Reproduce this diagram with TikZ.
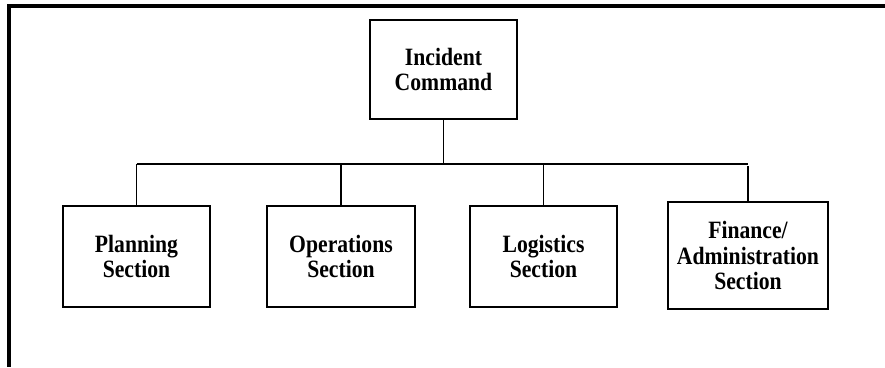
\documentclass[tikz,border=0pt]{standalone}
\usepackage{fontspec}
\setmainfont{Liberation Serif}
\newfontfamily\lab{Liberation Serif}[FakeStretch=0.87]
\begin{document}
\begin{tikzpicture}[x=1bp,y=-1bp,
  orgbox/.style={draw=black,line width=1.8bp,rectangle,inner sep=0pt,align=center,
    font=\lab\fontsize{25}{26}\selectfont\bfseries},
  link/.style={draw=black,line width=1.6bp},
  frame/.style={draw=black,line width=3.5bp}]
\useasboundingbox (0,0) rectangle (885,367);
\coordinate (tl) at (9,6);
\coordinate (tr) at (885,6);
\coordinate (bl) at (9,367);
\draw[frame] (tr) -- (tl) -- (bl);
\node[orgbox,minimum width=147bp,minimum height=99bp] (ic) at (443.5,69.5) {Incident\\Command};
\node[orgbox,minimum width=147bp,minimum height=101bp] (pl) at (136.5,256.5) {Planning\\Section};
\node[orgbox,minimum width=148bp,minimum height=101bp] (op) at (341,256.5) {Operations\\Section};
\node[orgbox,minimum width=147bp,minimum height=101bp] (lg) at (543.5,256.5) {Logistics\\Section};
\node[orgbox,minimum width=160bp,minimum height=107bp] (fn) at (748,255.5) {Finance/\\Administration\\Section};
\coordinate (bus) at (443.5,164);
\draw[link] (ic.south) -- (bus);
\draw[link] (pl.north |- bus) -- (fn.north |- bus);
\draw[link] (pl.north) -- (pl.north |- bus);
\draw[link] (op.north) -- (op.north |- bus);
\draw[link] (lg.north) -- (lg.north |- bus);
\draw[link] (fn.north) -- ([yshift=-2bp]fn.north |- bus);
\end{tikzpicture}
\end{document}
